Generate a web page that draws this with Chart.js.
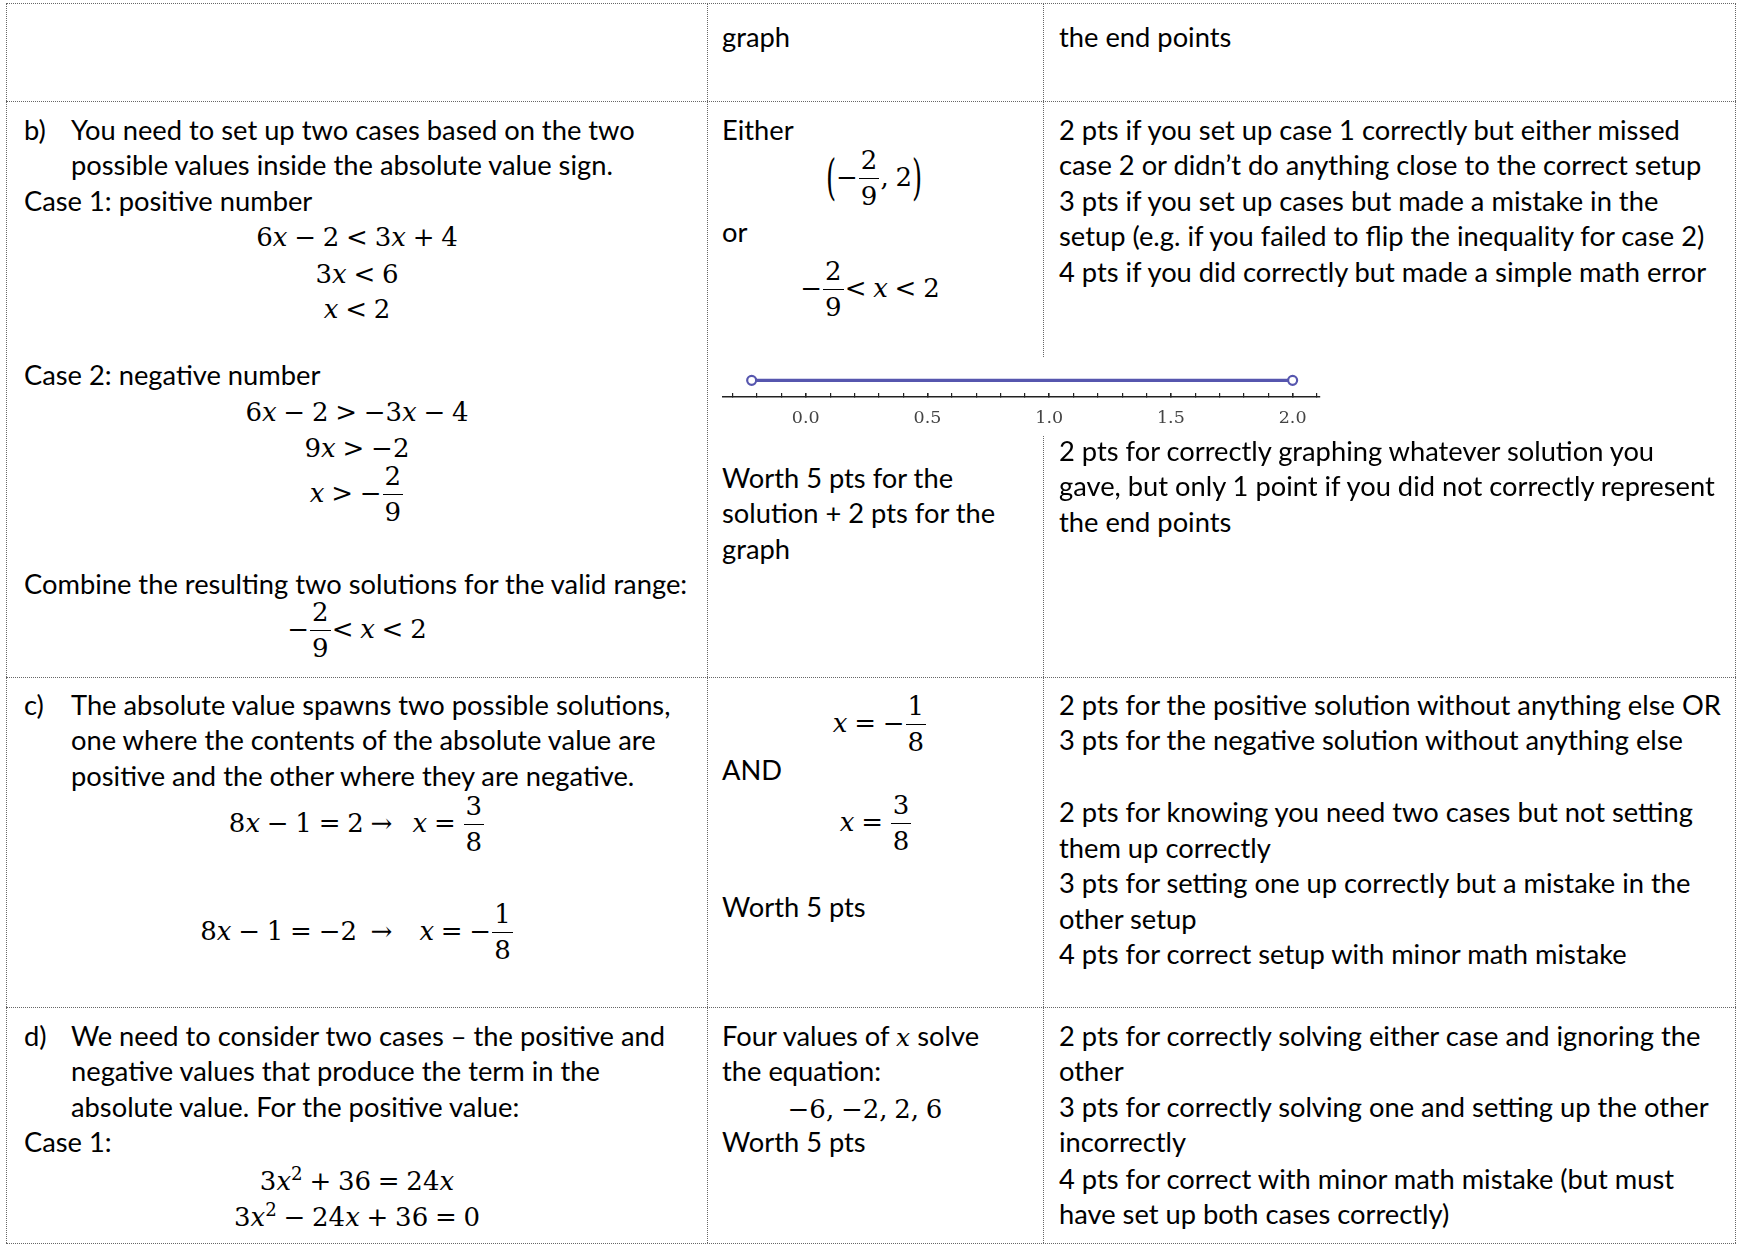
<!DOCTYPE html>
<html>
<head>
<meta charset="utf-8">
<script src="https://cdn.jsdelivr.net/npm/chart.js@4.4.1/dist/chart.umd.min.js"></script>
<style>
  html, body { margin: 0; padding: 0; background: #fff; }
  body { width: 1737px; height: 1246px; position: relative; overflow: hidden; }
  .t { position: absolute; white-space: nowrap; font-family: Lato, sans-serif; font-size: 27.3px; line-height: 36px; color: #000; }
  .m { position: absolute; white-space: nowrap; font-family: "DejaVu Serif", serif; font-size: 26px; line-height: 36px; color: #000; text-align: center; width: 600px; word-spacing: -1.5px; }
  .m i, .t i { font-family: "DejaVu Serif", serif; }
  .t i { font-size: 25px; }
  .fr { display: inline-flex; flex-direction: column; align-items: center; vertical-align: 17px; margin: -40px 1px; line-height: 26px; }
  .fr .nu { padding: 0 2px 4.5px; border-bottom: 1.5px solid #000; align-self: stretch; text-align: center; }
  .fr .de { padding-top: 4.5px; }
  .bp { display: inline-block; transform: scaleY(1.9); line-height: 26px; }
  sup { font-size: 0.7em; line-height: 0; vertical-align: 0.55em; }
  .hl { position: absolute; height: 0; border-top: 1px dotted #666; }
  .vl { position: absolute; width: 0; border-left: 1px dotted #666; }
  #numberLine { position: absolute; left: 713px; top: 357px; background: #fff; }
</style>
</head>
<body>

<!-- table rules -->
<div class="hl" style="left:6px;width:1730px;top:3px"></div>
<div class="hl" style="left:6px;width:1730px;top:101px"></div>
<div class="hl" style="left:6px;width:1730px;top:677px"></div>
<div class="hl" style="left:6px;width:1730px;top:1007px"></div>
<div class="hl" style="left:6px;width:1730px;top:1243px"></div>
<div class="vl" style="left:6px;top:3px;height:1240px"></div>
<div class="vl" style="left:707px;top:3px;height:1240px"></div>
<div class="vl" style="left:1043px;top:3px;height:1240px"></div>
<div class="vl" style="left:1735px;top:3px;height:1240px"></div>

<canvas id="numberLine" width="619" height="78"></canvas>

<!-- top row -->
<div class="t" style="left:722px;top:19px">graph</div>
<div class="t" style="left:1059px;top:19px">the end points</div>

<!-- row b -->
<div class="t" style="left:24px;top:112px">b)</div>
<div class="t" style="left:71px;top:112px">You need to set up two cases based on the two</div>
<div class="t" style="left:71px;top:147px">possible values inside the absolute value sign.</div>
<div class="t" style="left:24px;top:183px">Case 1: positive number</div>
<div class="m" style="left:57px;top:219px">6<i>x</i> − 2 &lt; 3<i>x</i> + 4</div>
<div class="m" style="left:57px;top:256px">3<i>x</i> &lt; 6</div>
<div class="m" style="left:57px;top:291px"><i>x</i> &lt; 2</div>
<div class="t" style="left:24px;top:357px">Case 2: negative number</div>
<div class="m" style="left:57px;top:394px">6<i>x</i> − 2 &gt; −3<i>x</i> − 4</div>
<div class="m" style="left:57px;top:430px">9<i>x</i> &gt; −2</div>
<div class="m" style="left:57px;top:475px"><i>x</i> &gt; −<span class="fr"><span class="nu">2</span><span class="de">9</span></span></div>
<div class="t" style="left:24px;top:566px">Combine the resulting two solutions for the valid range:</div>
<div class="m" style="left:57px;top:611px">−<span class="fr"><span class="nu">2</span><span class="de">9</span></span>&lt; <i>x</i> &lt; 2</div>

<div class="t" style="left:722px;top:112px">Either</div>
<div class="m" style="left:574px;top:159px"><span class="bp">(</span>−<span class="fr"><span class="nu">2</span><span class="de">9</span></span>, 2<span class="bp">)</span></div>
<div class="t" style="left:722px;top:214px">or</div>
<div class="m" style="left:570px;top:270px">−<span class="fr"><span class="nu">2</span><span class="de">9</span></span>&lt; <i>x</i> &lt; 2</div>
<div class="t" style="left:722px;top:460px">Worth 5 pts for the</div>
<div class="t" style="left:722px;top:495px">solution + 2 pts for the</div>
<div class="t" style="left:722px;top:531px">graph</div>

<div class="t" style="left:1059px;top:112px">2 pts if you set up case 1 correctly but either missed</div>
<div class="t" style="left:1059px;top:147px">case 2 or didn’t do anything close to the correct setup</div>
<div class="t" style="left:1059px;top:183px">3 pts if you set up cases but made a mistake in the</div>
<div class="t" style="left:1059px;top:218px">setup (e.g. if you failed to flip the inequality for case 2)</div>
<div class="t" style="left:1059px;top:254px">4 pts if you did correctly but made a simple math error</div>
<div class="t" style="left:1059px;top:433px">2 pts for correctly graphing whatever solution you</div>
<div class="t" style="left:1059px;top:468px">gave, but only 1 point if you did not correctly represent</div>
<div class="t" style="left:1059px;top:504px">the end points</div>

<!-- row c -->
<div class="t" style="left:24px;top:687px">c)</div>
<div class="t" style="left:71px;top:687px">The absolute value spawns two possible solutions,</div>
<div class="t" style="left:71px;top:722px">one where the contents of the absolute value are</div>
<div class="t" style="left:71px;top:758px">positive and the other where they are negative.</div>
<div class="m" style="left:57px;top:805px">8<i>x</i> − 1 = 2 →&nbsp;&nbsp; <i>x</i> = <span class="fr"><span class="nu">3</span><span class="de">8</span></span></div>
<div class="m" style="left:57px;top:913px">8<i>x</i> − 1 = −2 &nbsp;→ &nbsp;&nbsp; <i>x</i> = −<span class="fr"><span class="nu">1</span><span class="de">8</span></span></div>

<div class="m" style="left:580px;top:705px"><i>x</i> = −<span class="fr"><span class="nu">1</span><span class="de">8</span></span></div>
<div class="t" style="left:722px;top:752px">AND</div>
<div class="m" style="left:576px;top:804px"><i>x</i> = <span class="fr"><span class="nu">3</span><span class="de">8</span></span></div>
<div class="t" style="left:722px;top:889px">Worth 5 pts</div>

<div class="t" style="left:1059px;top:687px">2 pts for the positive solution without anything else OR</div>
<div class="t" style="left:1059px;top:722px">3 pts for the negative solution without anything else</div>
<div class="t" style="left:1059px;top:794px">2 pts for knowing you need two cases but not setting</div>
<div class="t" style="left:1059px;top:830px">them up correctly</div>
<div class="t" style="left:1059px;top:865px">3 pts for setting one up correctly but a mistake in the</div>
<div class="t" style="left:1059px;top:901px">other setup</div>
<div class="t" style="left:1059px;top:936px">4 pts for correct setup with minor math mistake</div>

<!-- row d -->
<div class="t" style="left:24px;top:1018px">d)</div>
<div class="t" style="left:71px;top:1018px">We need to consider two cases – the positive and</div>
<div class="t" style="left:71px;top:1053px">negative values that produce the term in the</div>
<div class="t" style="left:71px;top:1089px">absolute value. For the positive value:</div>
<div class="t" style="left:24px;top:1124px">Case 1:</div>
<div class="m" style="left:57px;top:1163px">3<i>x</i><sup>2</sup> + 36 = 24<i>x</i></div>
<div class="m" style="left:57px;top:1199px">3<i>x</i><sup>2</sup> − 24<i>x</i> + 36 = 0</div>

<div class="t" style="left:722px;top:1018px">Four values of <i>x</i> solve</div>
<div class="t" style="left:722px;top:1053px">the equation:</div>
<div class="m" style="left:565px;top:1091px">−6, −2, 2, 6</div>
<div class="t" style="left:722px;top:1124px">Worth 5 pts</div>

<div class="t" style="left:1059px;top:1018px">2 pts for correctly solving either case and ignoring the</div>
<div class="t" style="left:1059px;top:1053px">other</div>
<div class="t" style="left:1059px;top:1089px">3 pts for correctly solving one and setting up the other</div>
<div class="t" style="left:1059px;top:1124px">incorrectly</div>
<div class="t" style="left:1059px;top:1161px">4 pts for correct with minor math mistake (but must</div>
<div class="t" style="left:1059px;top:1196px">have set up both cases correctly)</div>

<script>
// interval -2/9 < x < 2, drawn as an open segment on a number line
const endpoints = [-2 / 9, 2];
const lineLevel = [0.5, 0.5];
const axisRange = [-0.34, 2.11];
const labelValues = [0, 0.5, 1, 1.5, 2];
const tickLabels = ['0.0', '0.5', '1.0', '1.5', '2.0'];

function labelIndex(v) {
  return labelValues.findIndex(l => Math.abs(l - v) < 1e-6);
}

const ctx = document.getElementById('numberLine').getContext('2d');
new Chart(ctx, {
  type: 'line',
  data: {
    datasets: [{
      data: endpoints.map((x, i) => ({ x: x, y: lineLevel[i] })),
      borderColor: '#5656ae',
      borderWidth: 3.2,
      pointRadius: 4.5,
      pointBorderWidth: 2.2,
      pointBackgroundColor: '#fff',
      pointBorderColor: '#5656ae',
      fill: false,
      tension: 0
    }]
  },
  options: {
    responsive: false,
    animation: false,
    layout: { padding: { left: 10, right: 10, top: 0, bottom: 0 } },
    plugins: { legend: { display: false }, tooltip: { enabled: false } },
    scales: {
      y: { display: false, min: 0, max: 1 },
      x: {
        type: 'linear',
        min: axisRange[0],
        max: axisRange[1],
        grid: {
          drawOnChartArea: false,
          drawTicks: true,
          tickLength: -4,
          color: '#222',
          lineWidth: c => (c.tick && labelIndex(c.tick.value) >= 0) ? 1.6 : 1.2
        },
        border: { display: true, color: '#222', width: 1.4 },
        ticks: {
          stepSize: 0.1,
          includeBounds: false,
          autoSkip: false,
          maxRotation: 0,
          padding: 15,
          color: '#444',
          font: { family: 'DejaVu Serif', size: 17.5 },
          callback: v => {
            const i = labelIndex(v);
            return i >= 0 ? tickLabels[i] : '';
          }
        },
        afterFit: s => { s.height = 38; }
      }
    }
  }
});
</script>
</body>
</html>
